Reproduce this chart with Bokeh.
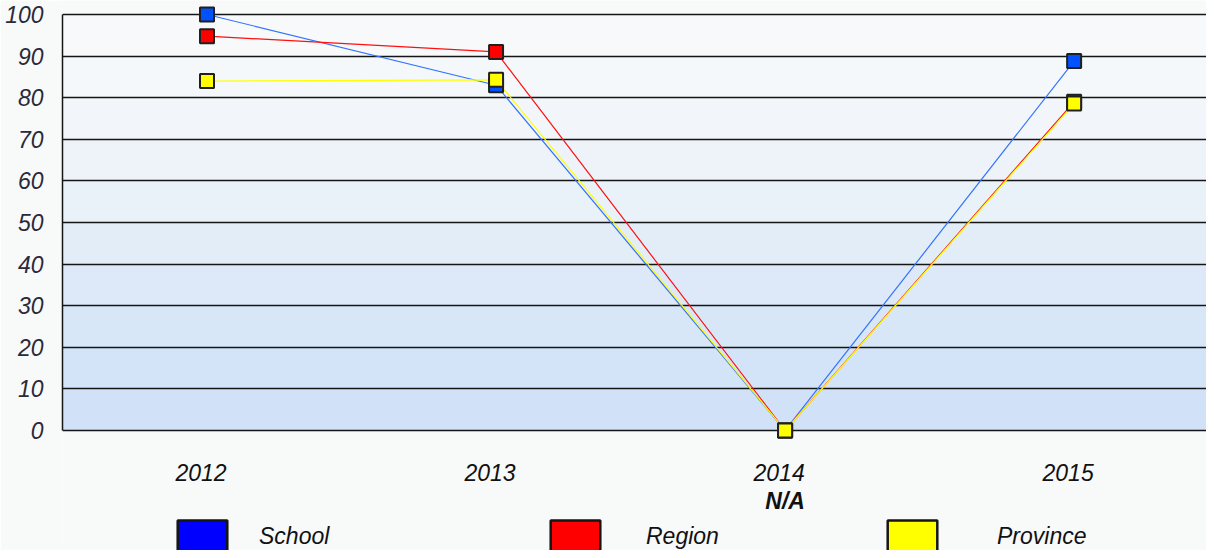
from bokeh.plotting import figure
from bokeh.models import Range1d, FixedTicker, Legend, LegendItem, BoxAnnotation
from bokeh.core.properties import value
from bokeh.embed import file_html
from bokeh.resources import INLINE

years = ["2012", "2013", "2014", "2015"]
school = [100, 83, 0, 88.8]
region = [94.8, 91, 0, 79]
province = [84, 84.3, 0, 78.6]
x_title = "N/A"
y_ticks = [0, 10, 20, 30, 40, 50, 60, 70, 80, 90, 100]
band_colors = ["#d1e2f8", "#d4e4f8", "#d8e7f8", "#dde9f8", "#e3edf8",
               "#e9f1f9", "#eef3fa", "#f2f6fa", "#f5f8fa", "#f7f9fa"]

PAGE = "#f8f9f9"
FONT = "Liberation Sans"
xs = list(range(len(years)))

# frame covers the whole figure height: 0 -> 430px, 100 -> 14px
p = figure(width=1206, height=550, x_range=Range1d(-0.5, 3.458),
           y_range=Range1d(-28.85, 103.37),
           x_axis_location=None,
           output_backend="svg", toolbar_location=None,
           min_border_top=0, min_border_bottom=0, min_border_left=62, min_border_right=0,
           background_fill_color=PAGE, border_fill_color=PAGE, outline_line_color=None)

for b, t, c in zip(y_ticks[:-1], y_ticks[1:], band_colors):
    p.add_layout(BoxAnnotation(bottom=b, top=t, fill_color=c, fill_alpha=1.0,
                               line_color=None, level="image"))

p.xgrid.visible = False
p.ygrid.ticker = FixedTicker(ticks=y_ticks)
p.ygrid.grid_line_color = "#151515"
p.ygrid.grid_line_width = 1.5

p.yaxis.ticker = FixedTicker(ticks=y_ticks)
p.yaxis.bounds = (0, 100)
p.yaxis.axis_line_color = "#151515"
p.yaxis.axis_line_width = 1.5
p.yaxis.major_tick_line_color = None
p.yaxis.minor_tick_line_color = None
p.yaxis.major_label_standoff = 13
p.yaxis.major_label_text_font = FONT
p.yaxis.major_label_text_font_style = "italic"
p.yaxis.major_label_text_font_size = "23px"
p.yaxis.major_label_text_color = "#2a2a3a"

# category labels below the zero line
p.text(x=xs, y=[-10.1] * len(xs), text=years, text_font=value(FONT),
       text_font_style="italic", text_font_size="23px", text_color="#111111",
       text_align="center", text_baseline="middle", x_offset=-6)
p.text(x=[xs[2]], y=[-16.9], text=[x_title], text_font=value(FONT),
       text_font_style="bold italic", text_font_size="23px", text_color="#111111",
       text_align="center", text_baseline="middle")

series = [
    ("School", school, "#3373ff", "#0052ff", "#0000ff", 26, 109),
    ("Region", region, "#ff1010", "#ff0000", "#ff0000", 40, 482),
    ("Province", province, "#ffff00", "#ffff00", "#ffff00", 54, 819),
]

for name, vals, lc, mc, sc, stand, lx in series:
    p.line(xs, vals, line_color=lc, line_width=1.2)

for name, vals, lc, mc, sc, stand, lx in series:
    p.scatter(xs, vals, marker="square", size=14, fill_color=mc,
              line_color="#202020", line_width=2)

for name, vals, lc, mc, sc, stand, lx in series:
    # hidden, zero-size renderer used only to draw the rectangular legend swatch
    sw = p.quad(left=xs, right=xs, top=vals, bottom=vals, fill_color=sc,
                line_color="#151515", line_width=2.5, visible=False)
    leg = Legend(items=[LegendItem(label=name, renderers=[sw])], location=(lx, -6),
                 orientation="horizontal", glyph_width=62, glyph_height=40,
                 label_standoff=stand, padding=0, margin=0, spacing=0,
                 border_line_alpha=0, background_fill_alpha=0,
                 label_text_font=FONT, label_text_font_style="italic",
                 label_text_font_size="23px", label_text_color="#111111",
                 label_text_baseline="middle")
    p.add_layout(leg)

open("out.html", "w").write(file_html(p, INLINE))
